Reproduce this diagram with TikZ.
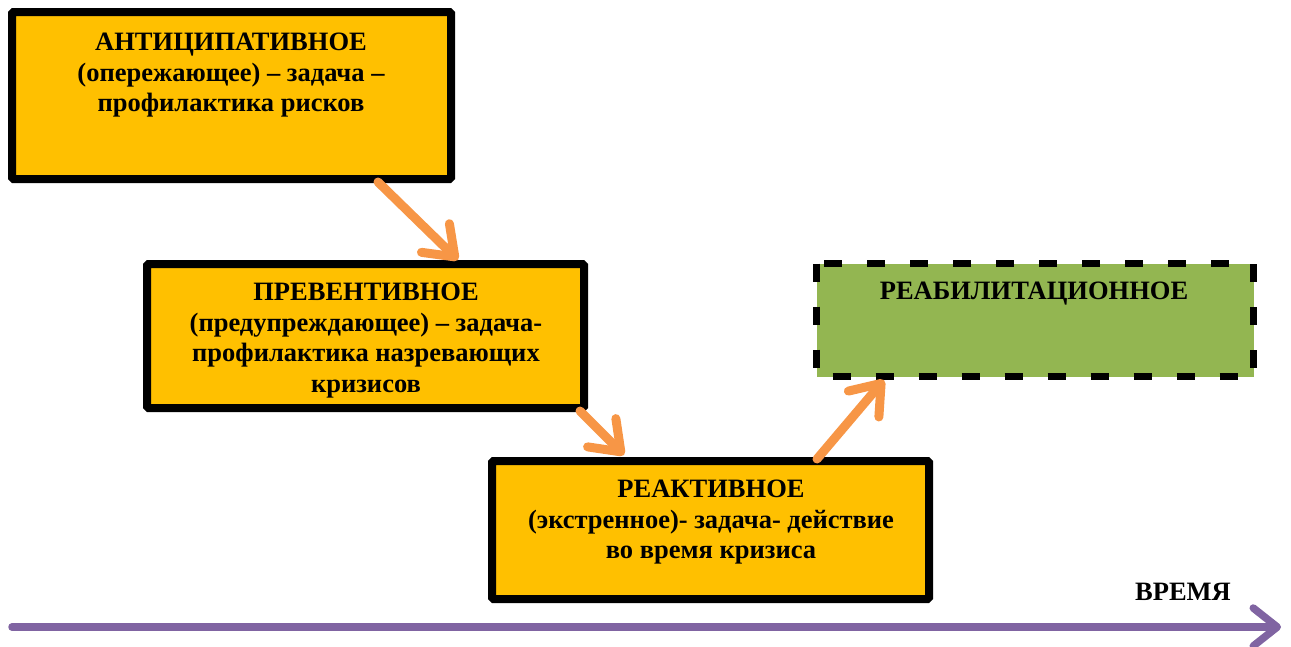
\documentclass[tikz,border=0pt]{standalone}
\usepackage{fontspec}
\setmainfont{Liberation Serif}
\usetikzlibrary{arrows.meta}
\definecolor{boxorange}{HTML}{FFC000}
\definecolor{boxgreen}{HTML}{93B651}
\definecolor{arrorange}{HTML}{F79646}
\definecolor{axispurple}{HTML}{8064A2}
\begin{document}
\begin{tikzpicture}[x=1pt,y=-1pt,
  ybox/.style={draw=black,line width=8pt,fill=boxorange,rounded corners=1.5pt},
  gbox/.style={draw=black,line width=7pt,fill=boxgreen,dash pattern=on 18pt off 25pt},
  txt/.style={font=\bfseries\fontsize{26.5}{30.5}\selectfont,align=center,anchor=north,inner sep=0pt},
  flow/.style={draw=arrorange,line width=9pt,line cap=round,-{Straight Barb[length=27pt,width=40pt,round]}},
  axis/.style={draw=axispurple,line width=7.5pt,line cap=round,-{Straight Barb[length=24pt,width=38pt,round]}}]
\useasboundingbox (0,0) rectangle (1291,646);
% boxes
\path[ybox] (12,12) rectangle (451,179);
\node[txt] (t1) at (231,33) {АНТИЦИПАТИВНОЕ\\(опережающее) – задача –\\профилактика рисков};
\path[ybox] (147,264) rectangle (584,408);
\node[txt] (t2) at (366,283) {ПРЕВЕНТИВНОЕ\\(предупреждающее) – задача-\\профилактика назревающих\\кризисов};
\path[ybox] (492,461) rectangle (929,599);
\node[txt] (t3) at (711,480) {РЕАКТИВНОЕ\\(экстренное)- задача- действие\\во время кризиса};
\path[gbox] (816.5,263.5) rectangle (1253.5,376.5);
\node[txt] (t4) at (1034,282) {РЕАБИЛИТАЦИОННОЕ};
% coordinates for connectors
\coordinate (a1s) at (378,182);
\coordinate (a1e) at (458,260);
\coordinate (a2s) at (580,411);
\coordinate (a2e) at (624,455);
\coordinate (a3s) at (817,459);
\coordinate (a3e) at (884,380);
\draw[flow] (a1s) -- (a1e);
\draw[flow] (a2s) -- (a2e);
\draw[flow] (a3s) -- (a3e);
% time axis
\coordinate (ax0) at (12,627);
\coordinate (ax1) at (1281,627);
\draw[axis] (ax0) -- (ax1);
\node[font=\bfseries\fontsize{26.5}{30}\selectfont,inner sep=0pt,anchor=north] (time) at (1183,583) {ВРЕМЯ};
\end{tikzpicture}
\end{document}
